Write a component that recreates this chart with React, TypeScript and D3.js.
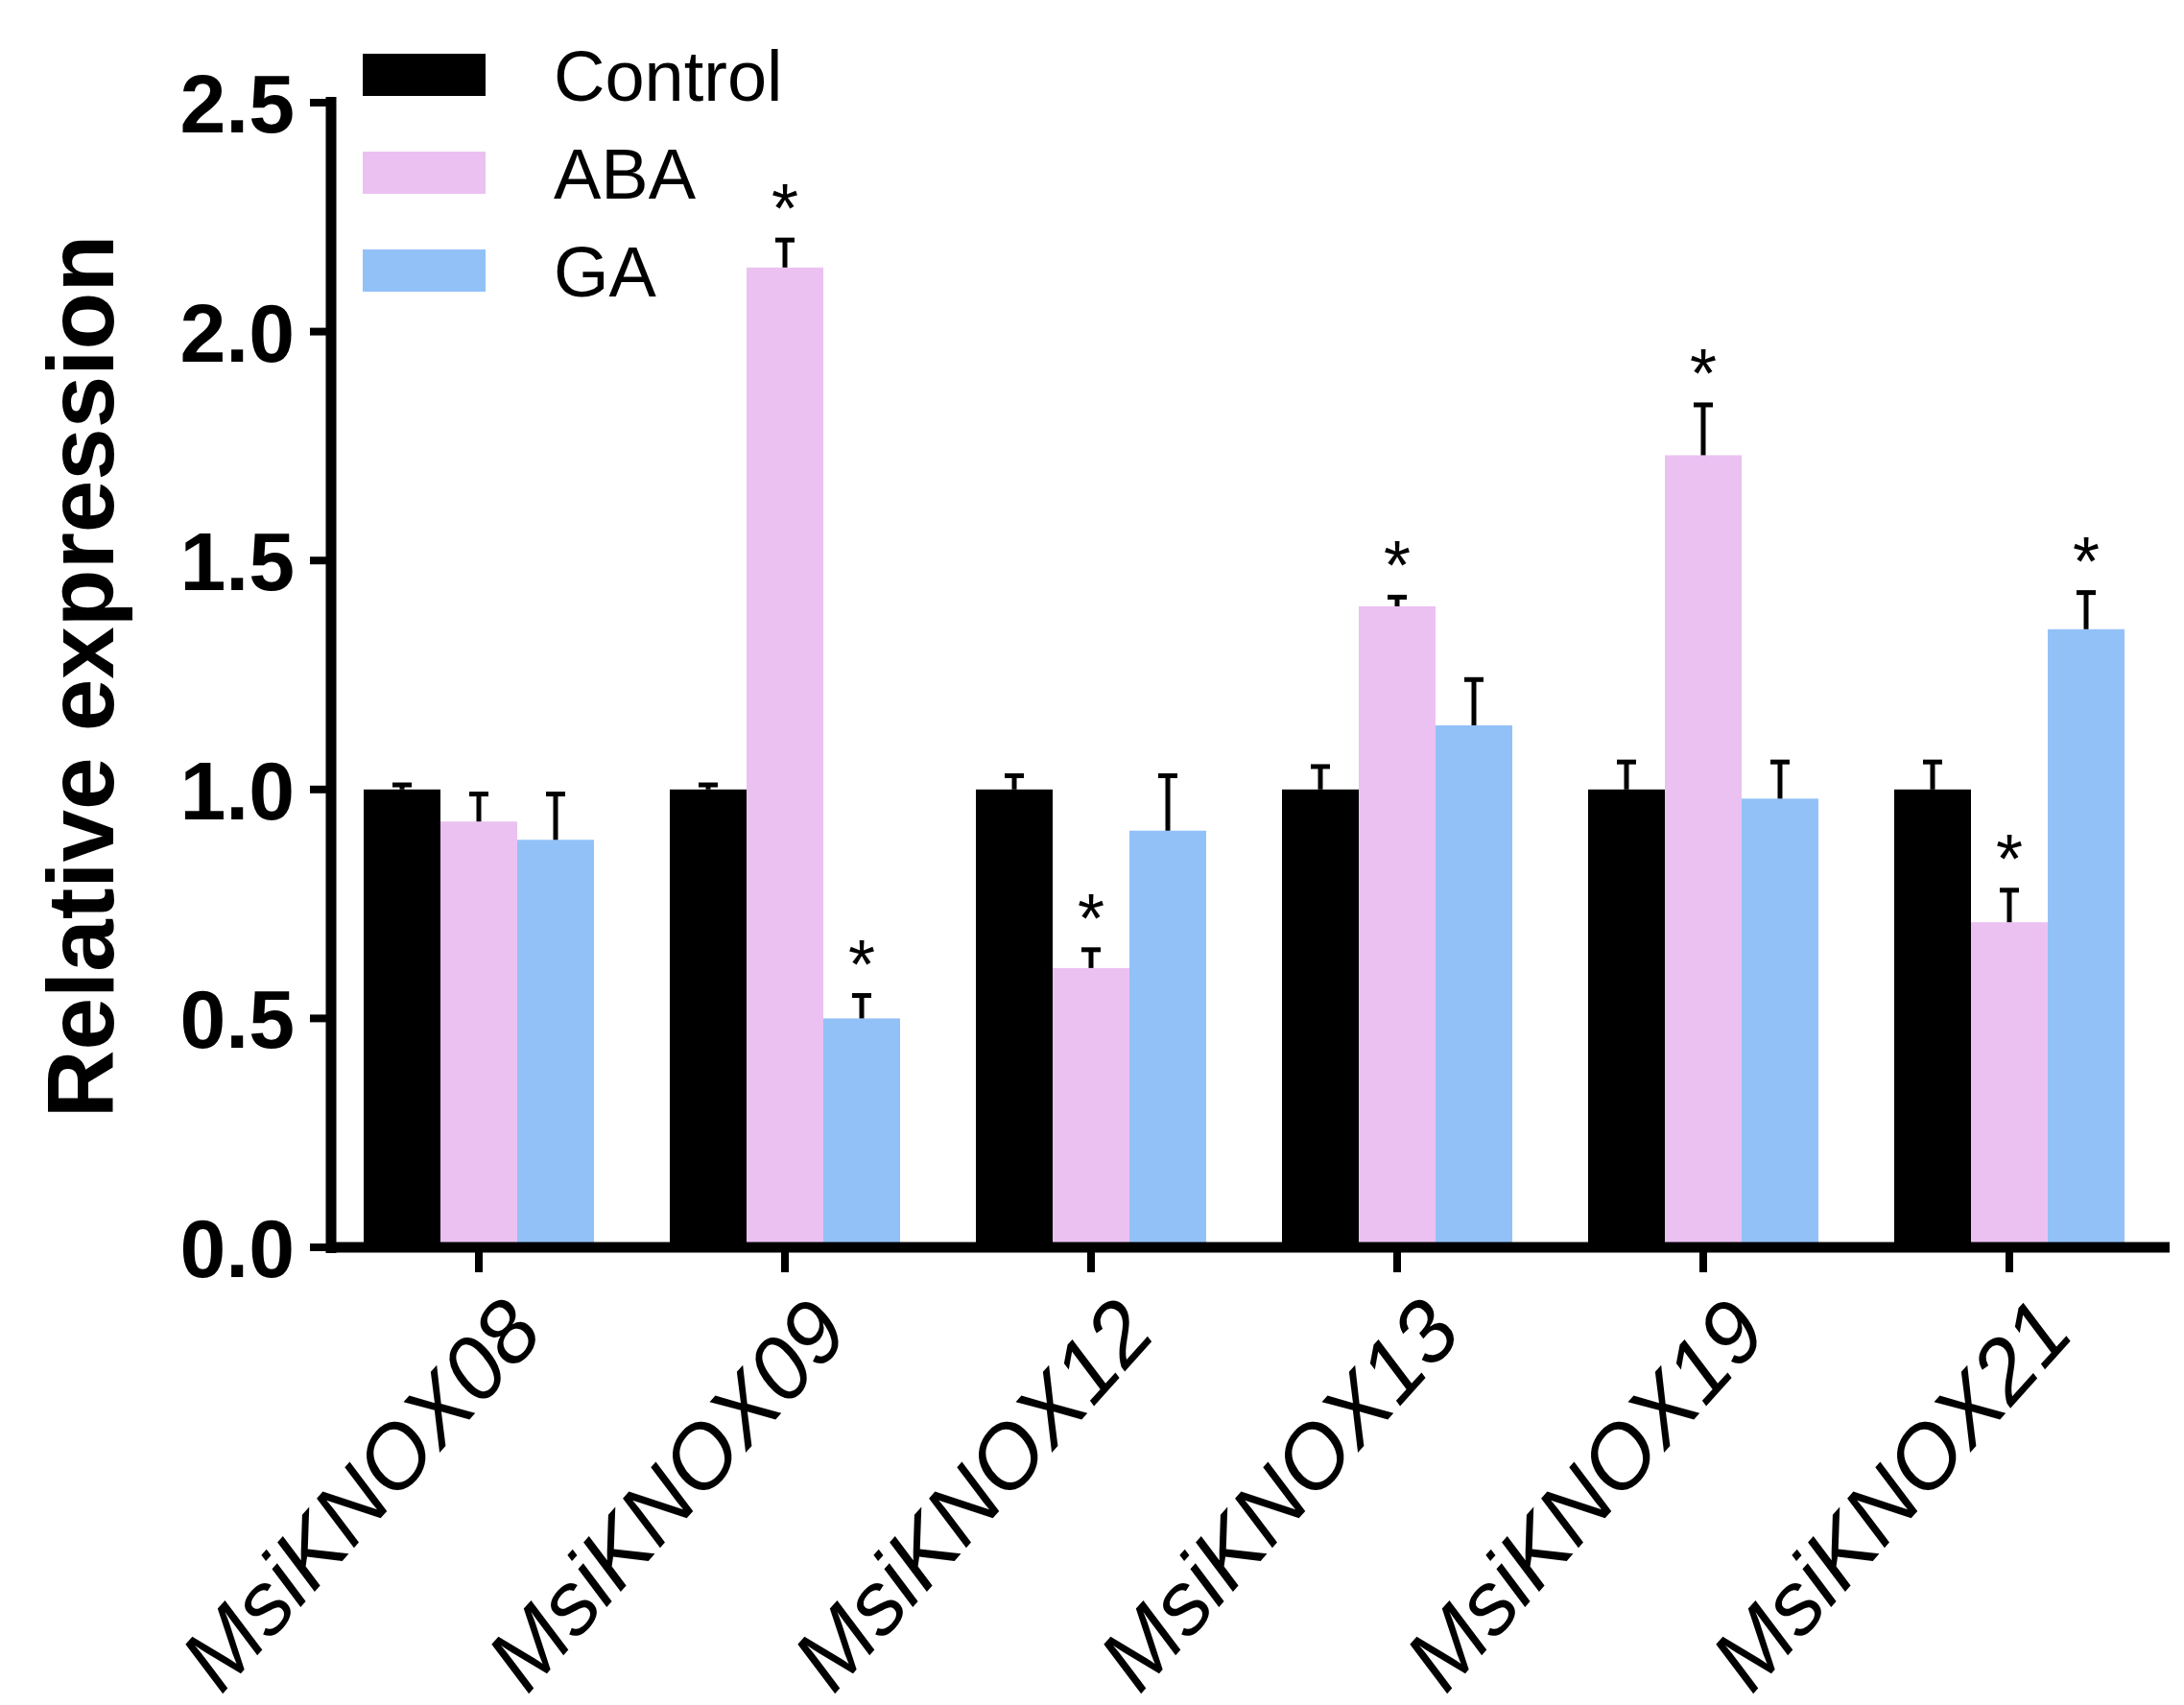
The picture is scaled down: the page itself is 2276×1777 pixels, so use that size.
import React from 'react';
import * as d3 from 'd3';

const genes = ['MsiKNOX08', 'MsiKNOX09', 'MsiKNOX12', 'MsiKNOX13', 'MsiKNOX19', 'MsiKNOX21'];
const seriesNames = ['Control', 'ABA', 'GA'];
const colors = ['#000000', '#ebc1f2', '#92c1f8'];
const control = [1.0, 1.0, 1.0, 1.0, 1.0, 1.0];
const controlErr = [0.01, 0.01, 0.03, 0.05, 0.06, 0.06];
const aba = [0.93, 2.14, 0.61, 1.4, 1.73, 0.71];
const abaErr = [0.06, 0.06, 0.04, 0.02, 0.11, 0.07];
const ga = [0.89, 0.5, 0.91, 1.14, 0.98, 1.35];
const gaErr = [0.1, 0.05, 0.12, 0.1, 0.08, 0.08];
const abaStar = [false, true, true, true, true, true];
const gaStar = [false, true, false, false, false, true];
const yTicks = [0, 0.5, 1.0, 1.5, 2.0, 2.5];

const W = 2276, H = 1777;
const axisX = 337, axisRight = 2253;

export default function App() {
  const y = d3.scaleLinear().domain([0, 2.5]).range([1292, 99]);
  const x = d3.scalePoint<string>().domain(genes).range([491, 491 + 5 * 319]);
  const bw = 80;
  const values = [control, aba, ga];
  const errs = [controlErr, abaErr, gaErr];
  const stars = [genes.map(() => false), abaStar, gaStar];
  const font = 'Arial, "Liberation Sans", sans-serif';

  return (
    <svg width={W} height={H} style={{ display: 'block' }} fontFamily={font}>
      <rect width={W} height={H} fill="#fff" />
      {values.map((vals, s) =>
        genes.map((g, i) => {
          const cx = (x(g) as number) + (s - 1) * bw;
          const top = y(vals[i]);
          const eTop = y(vals[i] + errs[s][i]);
          return (
            <g key={`${s}-${i}`}>
              <rect x={cx - bw / 2} y={top} width={bw} height={y(0) - top} fill={colors[s]} />
              <line x1={cx} x2={cx} y1={top} y2={eTop} stroke="#000" strokeWidth={5} />
              <line x1={cx - 10} x2={cx + 10} y1={eTop} y2={eTop} stroke="#000" strokeWidth={5} />
              {stars[s][i] && (
                <text x={cx} y={eTop - 8} textAnchor="middle" fontSize={72}>*</text>
              )}
            </g>
          );
        })
      )}
      <line x1={axisX} x2={axisX} y1={93} y2={1298} stroke="#000" strokeWidth={11} />
      <line x1={axisX - 5} x2={axisRight} y1={1292} y2={1292} stroke="#000" strokeWidth={11} />
      {yTicks.map(t => (
        <g key={t}>
          <line x1={axisX - 22} x2={axisX} y1={y(t)} y2={y(t)} stroke="#000" strokeWidth={8} />
          <text x={axisX - 38} y={y(t)} dy="0.36em" textAnchor="end" fontSize={86} fontWeight="bold">
            {t.toFixed(1)}
          </text>
        </g>
      ))}
      {genes.map(g => (
        <g key={g}>
          <line x1={x(g)} x2={x(g)} y1={1292} y2={1318} stroke="#000" strokeWidth={8} />
          <text
            transform={`translate(${(x(g) as number) + 22},${1340}) rotate(-48)`}
            textAnchor="end" fontSize={92} fontStyle="italic" dy="0.7em"
          >
            {g}
          </text>
        </g>
      ))}
      <text transform={`translate(75,697) rotate(-90)`} dy="0.36em" textAnchor="middle" fontSize={98} fontWeight="bold">
        Relative expression
      </text>
      {seriesNames.map((n, i) => (
        <g key={n}>
          <rect x={370} y={48 + i * 102} width={128} height={44} fill={colors[i]} />
          <text x={569} y={70 + i * 102} dy="0.36em" fontSize={74}>{n}</text>
        </g>
      ))}
    </svg>
  );
}
